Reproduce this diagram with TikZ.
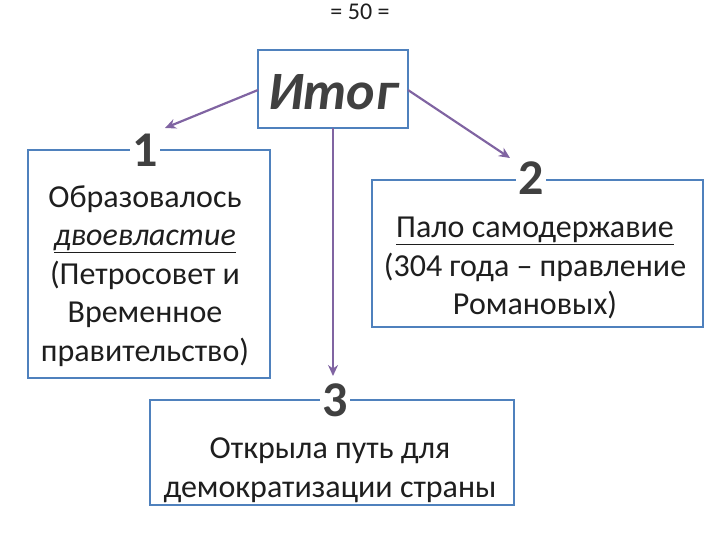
\documentclass[tikz,border=0pt]{standalone}
\usepackage{fontspec}
\setmainfont{Carlito}
\usetikzlibrary{arrows.meta}
\definecolor{bord}{RGB}{79,129,189}
\definecolor{arr}{RGB}{128,100,162}
\definecolor{txt}{RGB}{30,30,30}
\definecolor{num}{RGB}{64,64,64}
\begin{document}
\begin{tikzpicture}[x=1pt,y=-1pt,
  box/.style={draw=bord,line width=2.2pt,fill=white},
  con/.style={draw=arr,line width=2.2pt,-{Stealth[length=11pt,width=10pt]}},
  numlbl/.style={fill=white,inner sep=2pt,font=\bfseries\fontsize{50}{52}\selectfont,text=num},
  body/.style={align=center,text=txt,font=\fontsize{32}{38.5}\selectfont}]
\useasboundingbox (0,0) rectangle (720,540);
\node[text=txt,font=\fontsize{24}{26}\selectfont] (t) at (360,12) {= 50 =};
\draw[box] (258,50) rectangle (408,128);
\node[font=\bfseries\itshape\fontsize{54}{56}\selectfont,text=num] (it) at (333,92) {Итог};
\coordinate (itL) at (258,90);
\coordinate (itR) at (408,90);
\coordinate (itB) at (333,128);
\draw[box] (28,150) rectangle (270,378);
\draw[box] (372,180) rectangle (703,327);
\draw[box] (150,400) rectangle (514,505);
\node[numlbl] (n1) at (145,150) {1};
\node[numlbl] (n2) at (531,178) {2};
\node[numlbl] (n3) at (335,400) {3};
\node[body] (b1) at (145,276) {Образовалось\\\underline{\itshape двоевластие}\\(Петросовет и\\Временное\\правительство)};
\node[body] (b2) at (535,268) {\underline{Пало самодержавие}\\(304 года – правление\\Романовых)};
\node[body] (b3) at (330,470) {Открыла путь для\\демократизации страны};
\draw[con] (itL) -- (165,128);
\draw[con] (itR) -- (510,158);
\draw[con] (itB) -- (333,376);
\end{tikzpicture}
\end{document}
